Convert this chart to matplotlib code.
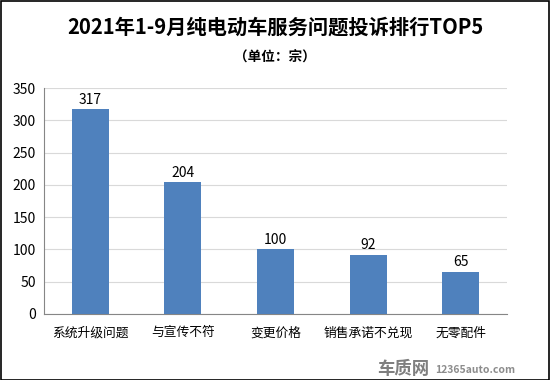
import matplotlib
matplotlib.use("Agg")
import matplotlib.pyplot as plt
from matplotlib.patches import Rectangle

plt.rcParams['font.family'] = ['Noto Sans CJK SC', 'DejaVu Sans']

categories = ["系统升级问题", "与宣传不符", "变更价格", "销售承诺不兑现", "无零配件"]
values = [317, 204, 100, 92, 65]
yticks = [0, 50, 100, 150, 200, 250, 300, 350]

fig = plt.figure(figsize=(5.5, 3.8), dpi=100)
ax = fig.add_axes([0.08, 0.174, 0.842, 0.594])

x = range(len(categories))
bars = ax.bar(x, values, width=0.4, color="#4F81BD", zorder=3)
for xi, v in zip(x, values):
    ax.text(xi, v + 4, str(v), ha="center", va="bottom", fontsize=10, color="#000000")

ax.set_xlim(-0.5, len(categories) - 0.5)
ax.set_ylim(0, 350)
ax.set_yticks(yticks)
ax.set_yticklabels([str(t) for t in yticks], fontsize=10)
ax.set_xticks(list(x))
ax.set_xticklabels(categories, fontsize=9.2)
ax.tick_params(axis="both", length=0, pad=6)
ax.tick_params(axis="x", pad=9)
ax.grid(axis="y", color="#D9D9D9", linewidth=0.8, zorder=0)
for s in ["top", "right"]:
    ax.spines[s].set_visible(False)
for s in ["left", "bottom"]:
    ax.spines[s].set_color("#868686")
    ax.spines[s].set_linewidth(0.8)

fig.text(0.5, 0.928, "2021年1-9月纯电动车服务问题投诉排行TOP5", ha="center", va="center",
         fontsize=14.6, fontweight="bold")
fig.text(0.5, 0.85, "（单位：宗）", ha="center", va="center", fontsize=9.8, fontweight="bold")
fig.text(0.78, 0.028, "车质网", ha="right", va="center", fontsize=12.5,
         color="#7F7F7F", fontweight="bold", style="italic")
fig.text(0.792, 0.026, "12365auto.com", ha="left", va="center", fontsize=7.5,
         color="#8C8C8C", fontweight="bold")

fig.patches.append(Rectangle((0.001, 0.001), 0.997, 0.997, transform=fig.transFigure,
                             fill=False, edgecolor="black", linewidth=1.2))

fig.savefig("out.png", dpi=100)
